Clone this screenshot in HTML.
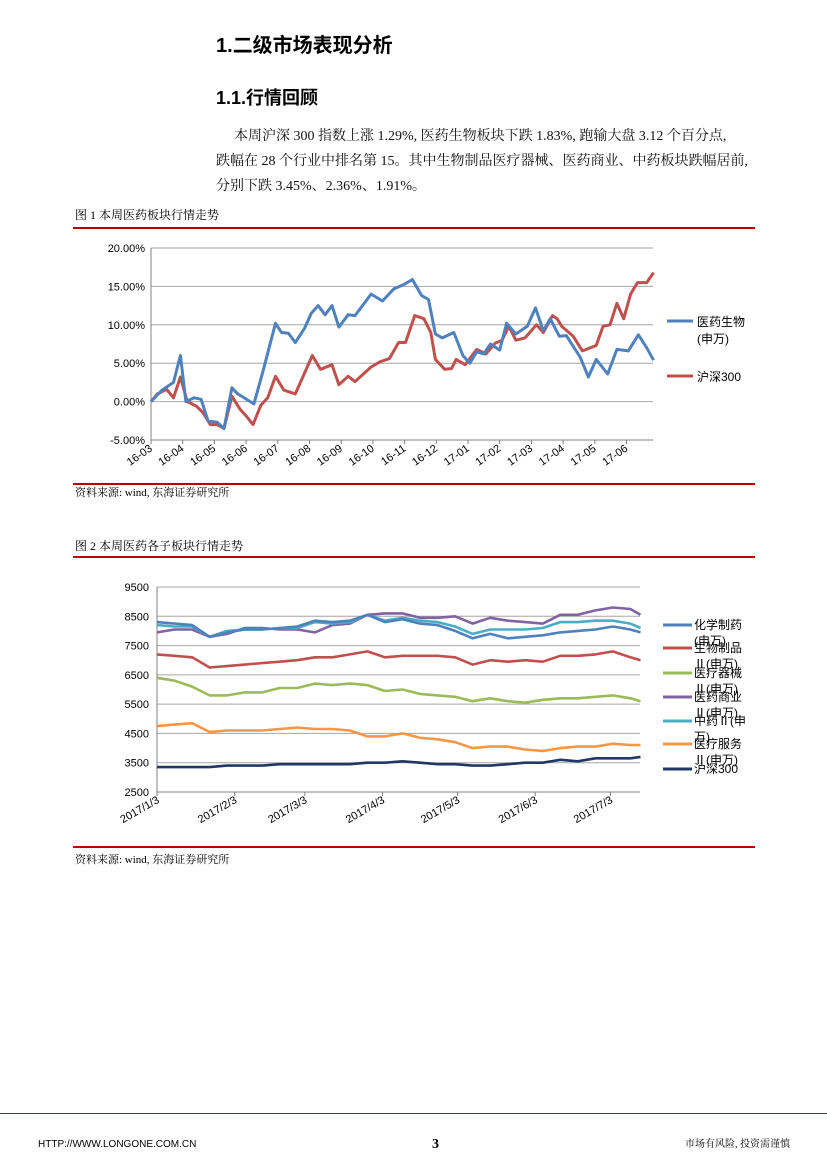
<!DOCTYPE html>
<html><head><meta charset="utf-8"><style>
body{margin:0;background:#fff}
svg{display:block}
text{font-family:"Liberation Sans","Noto Sans CJK SC",sans-serif}
.serif{font-family:"Liberation Serif","Noto Serif CJK SC",serif}
</style></head><body>
<svg id="pg" width="827" height="1170" viewBox="0 0 827 1170">
<text x="216" y="52" font-size="20" font-weight="bold">1.二级市场表现分析</text>
<text x="216" y="104" font-size="18" font-weight="bold">1.1.行情回顾</text>
<g class="serif" font-size="14" fill="#111">
<text x="234" y="140" class="serif">本周沪深 300 指数上涨 1.29%, 医药生物板块下跌 1.83%, 跑输大盘 3.12 个百分点,</text>
<text x="216" y="165" class="serif">跌幅在 28 个行业中排名第 15。其中生物制品医疗器械、医药商业、中药板块跌幅居前,</text>
<text x="216" y="190" class="serif">分别下跌 3.45%、2.36%、1.91%。</text>
</g>
<text x="75" y="219" font-size="12" class="serif">图 1 本周医药板块行情走势</text>
<rect x="73" y="227" width="682" height="2" fill="#c00000"/>
<rect x="73" y="483" width="682" height="2" fill="#c00000"/>
<text x="75" y="496" font-size="11" class="serif">资料来源:  wind, 东海证券研究所</text>
<g id="c1"></g>
<text x="75" y="550" font-size="12" class="serif">图 2 本周医药各子板块行情走势</text>
<rect x="73" y="556" width="682" height="2" fill="#c00000"/>
<rect x="73" y="846" width="682" height="2" fill="#c00000"/>
<text x="75" y="863" font-size="11" class="serif">资料来源:  wind, 东海证券研究所</text>
<g id="c2"></g>
<rect x="0" y="1113" width="827" height="1" fill="#c00000"/>
<text x="38" y="1147" font-size="10">HTTP://WWW.LONGONE.COM.CN</text>
<text x="432" y="1148" font-size="14" font-weight="bold" class="serif">3</text>
<text x="790" y="1147" font-size="10" text-anchor="end" class="serif">市场有风险, 投资需谨慎</text>
</svg>
<script>
// ---- Chart 1 data ----
const c1Months = ["16-03","16-04","16-05","16-06","16-07","16-08","16-09","16-10","16-11","16-12","17-01","17-02","17-03","17-04","17-05","17-06"];
const c1Ticks = [20,15,10,5,0,-5];
const c1BlueX = [0,24,49,64,76,94,109,124,144,159,176,189,224,244,271,284,299,314,334,349,364,379,394,409,429,444,479,504,529,549,569,589,604,619,634,659,679,694,709,724,739,759,774,794,819,837,854,869,889,904,934,952,969,994,1014,1039,1061,1079,1094];
const c1BlueY = [0,1.5,2.5,6,0,0.5,0.3,-2.5,-2.7,-3.5,1.8,1,-0.3,4,10.2,9,8.9,7.7,9.5,11.5,12.5,11.3,12.5,9.7,11.3,11.2,14,13.1,14.7,15.2,15.9,13.8,13.3,8.8,8.3,9,6,5,6.5,6.2,7.5,6.7,10.2,8.8,9.8,12.2,9.2,10.8,8.5,8.6,5.8,3.2,5.5,3.6,6.8,6.6,8.7,7,5.4];
const c1RedX = [0,14,34,49,64,79,99,114,129,144,159,176,194,209,222,239,254,271,289,314,329,351,369,394,409,429,444,479,499,519,539,554,574,594,609,619,639,654,664,684,709,729,749,764,779,794,814,839,854,874,884,894,919,939,969,984,999,1014,1029,1044,1059,1079,1094];
const c1RedY = [0,1,1.6,0.5,3.2,0,-0.6,-1.5,-3,-3,-3.5,0.7,-1,-2,-3,-0.5,0.5,3.3,1.5,1,3,6,4.2,4.8,2.2,3.3,2.6,4.5,5.2,5.6,7.7,7.7,11.2,10.8,9,5.5,4.2,4.3,5.5,4.8,6.8,6.2,7.6,8,9.8,8,8.3,10,9,11.2,10.8,9.8,8.5,6.6,7.3,9.8,10,12.8,10.8,14,15.5,15.5,16.8];
// ---- Chart 2 data ----
const c2Days = [0,7,14,21,28,35,42,49,56,63,70,77,84,91,98,105,112,119,126,133,140,147,154,161,168,175,182,189,193];
const c2TickLabels = ["2017/1/3","2017/2/3","2017/3/3","2017/4/3","2017/5/3","2017/6/3","2017/7/3"];
const c2TickDays = [0,31,59,90,120,151,181];
const c2YTicks = [9500,8500,7500,6500,5500,4500,3500,2500];
const s_chem = [8300,8250,8200,7800,7950,8050,8050,8100,8150,8350,8300,8350,8550,8300,8400,8250,8200,8000,7750,7900,7750,7800,7850,7950,8000,8050,8150,8050,7950];
const s_bio = [7200,7150,7100,6750,6800,6850,6900,6950,7000,7100,7100,7200,7300,7100,7150,7150,7150,7100,6850,7000,6950,7000,6950,7150,7150,7200,7300,7100,7000];
const s_device = [6400,6300,6100,5800,5800,5900,5900,6050,6050,6200,6150,6200,6150,5950,6000,5850,5800,5750,5600,5700,5600,5550,5650,5700,5700,5750,5800,5700,5600];
const s_comm = [7950,8050,8050,7800,7900,8100,8100,8050,8050,7950,8200,8250,8550,8600,8600,8450,8450,8500,8250,8450,8350,8300,8250,8550,8550,8700,8800,8750,8550];
const s_tcm = [8200,8150,8150,7800,8000,8050,8050,8100,8100,8300,8250,8300,8550,8350,8450,8350,8300,8150,7900,8050,8050,8050,8100,8300,8300,8350,8350,8250,8100];
const s_serv = [4750,4800,4850,4550,4600,4600,4600,4650,4700,4650,4650,4600,4400,4400,4500,4350,4300,4200,4000,4050,4050,3950,3900,4000,4050,4050,4150,4100,4100];
const s_hs300 = [3350,3350,3350,3350,3400,3400,3400,3450,3450,3450,3450,3450,3500,3500,3550,3500,3450,3450,3400,3400,3450,3500,3500,3600,3550,3650,3650,3650,3700];

const NS="http://www.w3.org/2000/svg";
function mk(parent,tag,attrs,txt){const e=document.createElementNS(NS,tag);for(const k in attrs)e.setAttribute(k,attrs[k]);if(txt!==undefined)e.textContent=txt;parent.appendChild(e);return e;}

// Chart 1
(function(){
const g=document.getElementById('c1');
const L=151,R=653,T=248,B=440;
const mPx=31.7, zoomPerMonth=69;
const xs=v=>L+v/zoomPerMonth*mPx;
const ys=v=>B-(v+5)/25*(B-T);
c1Ticks.forEach(t=>{
 if(t>-5){const l=mk(g,'line',{x1:L,x2:R,y1:ys(t),y2:ys(t),stroke:'#a6a6a6','stroke-width':1});
 
 }
 const tx=mk(g,'text',{x:L-6,y:ys(t)+4,'font-size':11,'text-anchor':'end'},t.toFixed(2)+'%');
 
 
});
const ax=mk(g,'path',{d:`M${L} ${T}V${B}H${R}`,stroke:'#808080',fill:'none','stroke-width':1});


c1Months.forEach((m,i)=>{
 const x=L+i*mPx;
 const tk=mk(g,'line',{x1:x,x2:x,y1:B,y2:B+4,stroke:'#808080'});
 
 
 const t=mk(g,'text',{x:x+2,y:B+10,'font-size':11,'text-anchor':'end',transform:`rotate(-35 ${x+2} ${B+10})`},m);
 
 
});
function line(X,Y,c,n){const d=X.map((x,i)=>(i?'L':'M')+xs(x).toFixed(1)+' '+ys(Y[i]).toFixed(1)).join('');
 const p=mk(g,'path',{d,stroke:c,'stroke-width':3,fill:'none','stroke-linejoin':'round'});
 
 }
const n=Math.min(c1RedX.length,c1RedY.length);
line(c1RedX.slice(0,n),c1RedY.slice(0,n),'#c0504d','series-hs300');
const nb=Math.min(c1BlueX.length,c1BlueY.length);
line(c1BlueX.slice(0,nb),c1BlueY.slice(0,nb),'#4f81bd','series-pharma');
const lg1=mk(g,'line',{x1:667,x2:693,y1:321,y2:321,stroke:'#4f81bd','stroke-width':3});


const lt1=mk(g,'text',{x:697,y:326,'font-size':12},'医药生物');


const lt1b=mk(g,'text',{x:697,y:343,'font-size':12},'(申万)');


const lg2=mk(g,'line',{x1:667,x2:693,y1:376,y2:376,stroke:'#c0504d','stroke-width':3});


const lt2=mk(g,'text',{x:697,y:381,'font-size':12},'沪深300');


})();

// Chart 2
(function(){
const g=document.getElementById('c2');
const L=157,R=640,T=587,B=792;
const dPx=2.505;
const xs=d=>L+d*dPx;
const ys=v=>B-(v-2500)/7000*(B-T);
c2YTicks.forEach(t=>{
 if(t>2500){const l=mk(g,'line',{x1:L,x2:R,y1:ys(t),y2:ys(t),stroke:'#a6a6a6'});
 
 }
 const tx=mk(g,'text',{x:L-8,y:ys(t)+4,'font-size':11,'text-anchor':'end'},String(t));
 
 
});
const ax=mk(g,'path',{d:`M${L} ${T}V${B}H${R}`,stroke:'#808080',fill:'none'});


c2TickLabels.forEach((lab,i)=>{
 const x=xs(c2TickDays[i]);
 const tk=mk(g,'line',{x1:x,x2:x,y1:B,y2:B+4,stroke:'#808080'});
 
 
 const t=mk(g,'text',{x:x+3,y:B+10,'font-size':11,'text-anchor':'end',transform:`rotate(-30 ${x+3} ${B+10})`},lab);
 
 
});
const series=[
 [s_hs300,'#1f3864','series-hs300'],
 [s_serv,'#f79646','series-medical-service'],
 [s_device,'#9bbb59','series-medical-device'],
 [s_bio,'#c0504d','series-bio-products'],
 [s_comm,'#8064a2','series-pharma-commerce'],
 [s_tcm,'#4bacc6','series-tcm'],
 [s_chem,'#4f81bd','series-chem-pharma']];
series.forEach(([v,c,n])=>{
 const d=c2Days.map((x,i)=>(i?'L':'M')+xs(x).toFixed(1)+' '+ys(v[i]).toFixed(1)).join('');
 const p=mk(g,'path',{d,stroke:c,'stroke-width':2.6,fill:'none','stroke-linejoin':'round'});
 
 
});
const leg=[['#4f81bd',625,['化学制药','(申万)']],['#c0504d',648,['生物制品','Ⅱ(申万)']],['#9bbb59',673,['医疗器械','Ⅱ(申万)']],['#8064a2',697,['医药商业','Ⅱ(申万)']],['#4bacc6',721,['中药Ⅱ(申','万)']],['#f79646',744,['医疗服务','Ⅱ(申万)']],['#1f3864',769,['沪深300']]];
leg.forEach(([c,y,ls])=>{
 const l=mk(g,'line',{x1:663,x2:692,y1:y,y2:y,stroke:c,'stroke-width':3});
 
 
 ls.forEach((s,j)=>{const t=mk(g,'text',{x:694,y:y+4+j*16,'font-size':12},s);
 
 });
});
})();
</script>
</body></html>
